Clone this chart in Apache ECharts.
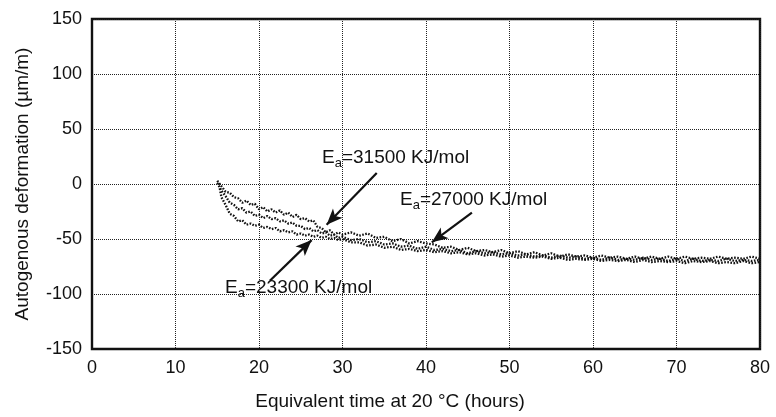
<!DOCTYPE html>
<html>
<head>
<meta charset="utf-8">
<script src="https://cdn.jsdelivr.net/npm/echarts@6/dist/echarts.min.js"></script>
<style>
  html, body { margin: 0; padding: 0; background: #fff; }
  #chart { width: 776px; height: 417px; }
</style>
</head>
<body>
<div id="chart"></div>
<script>
// values (x = equivalent hours, y = µm/m)
const xTicks = [0, 10, 20, 30, 40, 50, 60, 70, 80]
const yTicks = [-150, -100, -50, 0, 50, 100, 150]

// upper trace
const ea31500 = [
  [15, 3], [15.5, -2], [16, -7], [16.5, -8], [17, -12], [17.5, -13], [18, -17], [18.5, -15],
  [19, -19], [19.5, -18], [20, -23], [20.5, -21], [21, -25], [21.5, -23], [22, -26], [22.5, -24],
  [23, -28], [23.5, -26], [24, -30], [24.5, -28], [25, -32], [25.5, -31], [26, -34], [26.5, -33],
  [27, -39], [27.5, -40], [28, -44], [28.5, -42], [29, -46], [29.5, -44], [30, -46],
  [31, -44], [32, -47], [33, -45], [34, -49], [35, -48], [36, -52], [37, -50], [38, -54],
  [39, -52], [40, -54], [41, -55], [42, -58], [43, -57], [44, -60], [45, -58], [46, -61],
  [47, -60], [48, -62], [49, -60], [50, -63], [51, -61], [52, -64], [53, -62], [54, -65],
  [55, -63], [56, -66], [57, -64], [58, -66], [59, -65], [60, -67], [61, -65], [62, -67],
  [63, -66], [64, -68], [65, -66], [66, -68], [67, -66], [68, -68], [69, -66], [70, -68],
  [71, -66], [72, -68], [73, -67], [74, -68], [75, -66], [76, -68], [77, -67], [78, -68],
  [79, -66], [80, -68]
]
// middle trace
const ea27000 = [
  [15, 1], [15.5, -6], [16, -11], [16.5, -17], [17, -19], [17.5, -23], [18, -22], [18.5, -26],
  [19, -25], [19.5, -29], [20, -28], [20.5, -31], [21, -29], [21.5, -32], [22, -31], [22.5, -34],
  [23, -33], [23.5, -36], [24, -35], [24.5, -38], [25, -38], [25.5, -41], [26, -40], [26.5, -43],
  [27, -42], [27.5, -45], [28, -44], [28.5, -47], [29, -46], [29.5, -49], [30, -48],
  [31, -51], [32, -50], [33, -53], [34, -52], [35, -55], [36, -54], [37, -57], [38, -56],
  [39, -59], [40, -57], [41, -60], [42, -59], [43, -61], [44, -60], [45, -63], [46, -61],
  [47, -63], [48, -62], [49, -64], [50, -63], [51, -65], [52, -64], [53, -66], [54, -65],
  [55, -67], [56, -65], [57, -67], [58, -66], [59, -68], [60, -67], [61, -69], [62, -67],
  [63, -69], [64, -68], [65, -69], [66, -67], [67, -69], [68, -68], [69, -70], [70, -68],
  [71, -70], [72, -68], [73, -70], [74, -69], [75, -70], [76, -68], [77, -70], [78, -69],
  [79, -70], [80, -69]
]
// lower trace
const ea23300 = [
  [15.3, -4], [15.5, -12], [16, -19], [16.5, -27], [17, -29], [17.5, -34], [18, -33], [18.5, -37],
  [19, -36], [19.5, -38], [20, -37], [20.5, -40], [21, -39], [21.5, -41], [22, -40], [22.5, -43],
  [23, -42], [23.5, -44], [24, -43], [24.5, -46], [25, -45], [25.5, -47], [26, -46], [26.5, -48],
  [27, -47], [27.5, -49], [28, -48], [28.5, -50], [29, -49], [29.5, -51], [30, -50],
  [31, -53], [32, -53], [33, -56], [34, -55], [35, -58], [36, -57], [37, -60], [38, -59],
  [39, -61], [40, -60], [41, -62], [42, -61], [43, -63], [44, -62], [45, -64], [46, -63],
  [47, -65], [48, -64], [49, -66], [50, -65], [51, -67], [52, -66], [53, -67], [54, -66],
  [55, -68], [56, -67], [57, -69], [58, -68], [59, -69], [60, -68], [61, -70], [62, -69],
  [63, -70], [64, -69], [65, -71], [66, -69], [67, -71], [68, -70], [69, -71], [70, -70],
  [71, -72], [72, -70], [73, -71], [74, -70], [75, -72], [76, -71], [77, -72], [78, -70],
  [79, -72], [80, -71]
]

// arrow annotations, [from, to] in data units
const arrow31500 = [[34.1, 10], [28.1, -37]]
const arrow23300 = [[21.3, -88], [26.3, -51]]
const arrow27000 = [[45.5, -26], [40.7, -53]]

const font = "'Liberation Sans', Arial, sans-serif"
const ink = '#111'

const arrowLine = (pts) => ({
  silent: true,
  symbol: ['none', 'arrow'],
  symbolSize: [10, 16],
  label: { show: false },
  lineStyle: { color: ink, type: 'solid', width: 2.2 },
  data: [[{ coord: pts[0] }, { coord: pts[1] }]]
})

const curve = (name, data, markLine) => ({
  name: name,
  type: 'line',
  data: data,
  showSymbol: false,
  lineStyle: { color: ink, width: 2.3, type: [1.6, 1.5] },
  markLine: markLine
})

const eaLabel = (left, top, val) => ({
  type: 'text',
  left: left,
  top: top,
  silent: true,
  style: {
    text: '{e|E}{s|a}{e|=' + val + ' KJ/mol}',
    rich: {
      e: { fontSize: 19, fontFamily: font, fill: ink, verticalAlign: 'bottom', lineHeight: 22 },
      s: { fontSize: 13, fontFamily: font, fill: ink, verticalAlign: 'bottom', lineHeight: 12, padding: [0, 0, -3, 0] }
    }
  }
})

const chart = echarts.init(document.getElementById('chart'))
chart.setOption({
  animation: false,
  backgroundColor: '#fff',
  grid: { left: 92, right: 16, top: 19, bottom: 68, show: false },
  xAxis: {
    type: 'value',
    min: 0, max: 80, interval: 10,
    name: 'Equivalent time at 20 °C (hours)',
    nameLocation: 'middle',
    nameGap: 43,
    nameTextStyle: { fontSize: 19, fontFamily: font, color: ink, padding: [0, 72, 0, 0] },
    axisLine: { show: true, onZero: false, lineStyle: { color: ink, width: 2 } },
    axisTick: { show: false },
    axisLabel: { fontSize: 18, fontFamily: font, color: ink, margin: 10 },
    splitLine: { show: true, lineStyle: { color: '#222', type: [1, 1], width: 1 } }
  },
  yAxis: {
    type: 'value',
    min: -150, max: 150, interval: 50,
    name: 'Autogenous deformation (µm/m)',
    nameLocation: 'middle',
    nameGap: 60,
    nameTextStyle: { fontSize: 19, fontFamily: font, color: ink },
    axisLine: { show: true, onZero: false, lineStyle: { color: ink, width: 2 } },
    axisTick: { show: false },
    axisLabel: { fontSize: 18, fontFamily: font, color: ink, margin: 10 },
    splitLine: { show: true, lineStyle: { color: '#222', type: [1, 1], width: 1 } }
  },
  series: [
    curve('Ea=31500', ea31500, arrowLine(arrow31500)),
    curve('Ea=27000', ea27000, arrowLine(arrow27000)),
    curve('Ea=23300', ea23300, arrowLine(arrow23300))
  ],
  graphic: [
    // closing frame of the plot box
    { type: 'rect', silent: true, shape: { x: 92, y: 19, width: 668, height: 330 }, style: { fill: 'none', stroke: ink, lineWidth: 2.4 } },
    eaLabel(322, 148, 31500),
    eaLabel(400, 190, 27000),
    eaLabel(225, 278, 23300)
  ]
})
</script>
</body>
</html>
